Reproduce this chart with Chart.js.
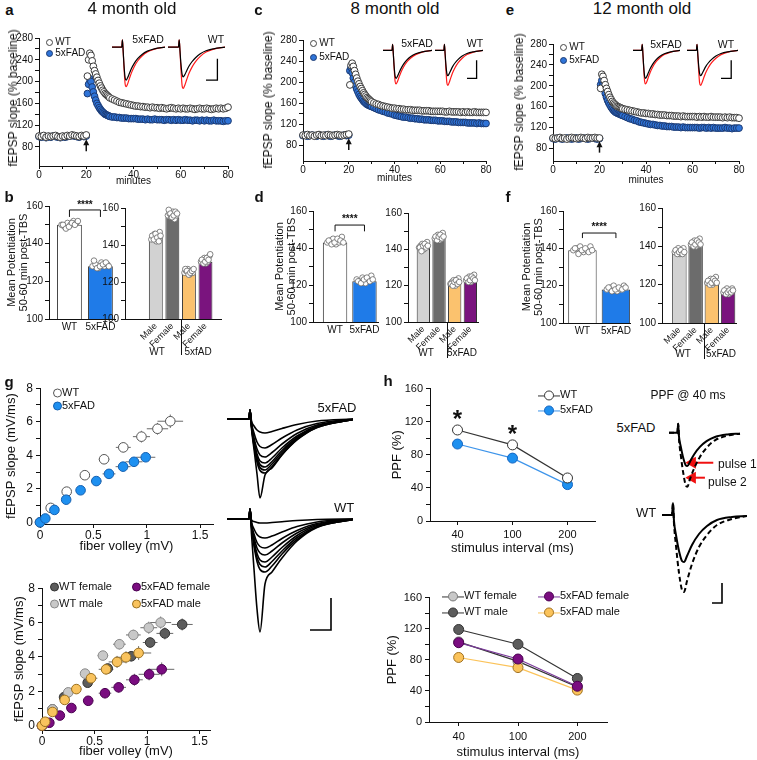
<!DOCTYPE html>
<html>
<head>
<meta charset="utf-8">
<script src="https://cdn.jsdelivr.net/npm/chart.js@4.4.1/dist/chart.umd.min.js"></script>
<style>
  body { margin: 0; background: #fff; }
  #fig { position: relative; width: 757px; height: 760px; overflow: hidden; font-family: 'Liberation Sans', Arial, sans-serif; color: #111; }
  #fig canvas { position: absolute; }
  .t { position: absolute; white-space: nowrap; line-height: 1; transform: translate(-50%, -50%); }
  .tr { position: absolute; white-space: nowrap; line-height: 1; transform: translate(-50%, -50%) rotate(-90deg); }
  .tl { position: absolute; white-space: nowrap; line-height: 1; transform: translate(0, -50%); }
  .dot { display: inline-block; border-radius: 50%; box-sizing: border-box; vertical-align: middle; }
</style>
</head>
<body>
<div id="fig"></div>
<script>
// ---------- LTP time course (minutes, % baseline) ----------
const ltpMinutes = [0,1,2,3,4,5,6,7,8,9,10,11,12,13,14,15,16,17,18,19,20,
  20.5,21,21.5,22,22.5,23,23.5,24,24.5,25,25.5,26,26.5,27,27.5,28,28.5,29,29.5,30,
  31,32,33,34,35,36,37,38,39,40,41,42,43,44,45,46,47,48,49,50,
  51,52,53,54,55,56,57,58,59,60,61,62,63,64,65,66,67,68,69,70,
  71,72,73,74,75,76,77,78,79,80]
const wt4mo = [100,99,101,98,100,99,100,101,99,98,100,99,101,100,102,101,100,99,101,100,102,
  210,240,252,248,238,228,220,214,208,202,197,192,188,184,181,178,176,174,172,170,
  168,166,164,162,161,160,159,158,157,156,155,155,154,154,153,153,152,153,152,152,
  151,152,151,150,151,152,151,150,151,150,151,150,150,151,150,149,150,151,150,150,
  151,150,149,150,151,150,151,150,151,153]
const fad4mo = [99,98,100,97,99,98,100,99,98,97,99,98,99,100,101,100,99,98,100,99,100,
  178,195,205,200,190,181,173,166,160,156,152,149,146,144,142,140,139,138,137,136,
  135,135,134,134,133,133,133,132,132,132,132,131,131,131,130,131,130,130,131,130,
  130,130,129,130,130,129,130,129,130,129,129,130,129,129,128,129,129,128,129,128,
  129,128,128,129,128,128,128,127,128,128]
const wt8mo = [100,99,101,99,100,98,100,101,99,100,99,101,100,99,100,101,100,99,100,101,102,
  195,232,236,230,222,215,208,202,197,192,188,184,180,177,174,171,169,167,165,163,
  161,159,158,156,155,154,153,152,151,151,150,150,149,149,148,148,148,147,147,147,
  147,146,146,146,146,145,145,145,145,145,145,144,144,145,144,144,144,144,143,144,
  143,144,143,143,144,143,143,143,143,143]
const fad8mo = [99,100,98,99,100,99,98,100,99,98,100,99,98,99,100,99,98,99,100,99,100,
  222,228,218,208,200,193,187,182,177,173,170,167,164,162,160,158,157,156,155,154,
  152,150,148,147,145,144,142,141,140,138,137,136,135,134,134,133,132,132,131,131,
  130,130,129,129,129,128,128,128,127,127,127,126,126,126,125,125,125,124,124,124,
  124,123,123,123,123,122,123,122,122,122]
const wt12mo = [100,99,100,101,99,100,98,100,101,100,99,100,101,100,99,101,100,100,101,100,100,
  195,222,218,210,202,195,189,183,178,174,170,167,165,163,161,160,159,158,157,156,
  155,154,153,152,151,150,149,148,148,147,147,146,146,145,145,144,144,144,143,143,
  143,142,142,142,141,142,141,141,141,141,141,140,141,140,141,140,140,141,140,140,
  140,140,139,140,139,140,139,139,139,138]
const fad12mo = [99,98,100,99,98,99,100,99,98,99,100,98,99,100,99,98,99,100,99,98,99,
  202,210,202,193,185,178,172,167,163,159,156,153,151,149,148,147,146,145,144,143,
  141,139,137,136,134,133,131,130,129,128,127,126,126,125,124,124,123,123,122,122,
  122,121,121,121,120,121,120,120,120,120,120,120,119,120,120,119,120,119,120,119,
  119,119,119,120,119,119,118,119,119,119]
const ltpYTicks = [80,100,120,140,160,180,200,220,240,260,280]
const ltpXTicks = [0,10,20,30,40,50,60,70,80]

// ---------- mean potentiation 50-60 min post-TBS ----------
const genoLabels = ['WT', '5xFAD']
const sexLabels = ['Male', 'Female', 'Male', 'Female']
const potTicks = [100,110,120,130,140,150,160]
const jitter = [-0.32,-0.2,-0.08,0.04,0.16,0.28,-0.26,-0.14,-0.02,0.1,0.22,0.34]
const geno4 = [150, 128]
const geno4Pts = [[150,149,151,150,152,151,150,148,149,151,150,152],[128,129,127,130,128,129,131,127,128,129,130,128]]
const sex4 = [144, 155, 125, 131]
const sex4Pts = [[143,145,146,142,144,147,145,143,146,144,142,145],[156,157,155,158,154,156,159,157,155,156,158,157],
  [125,126,127,124,126,125,127,126,124,125,126,127],[131,132,133,130,131,134,132,130,131,133,132,135]]
const geno8 = [143, 122]
const geno8Pts = [[143,144,145,142,143,146,144,142,143,145,144,143],[123,122,124,121,123,125,122,121,123,124,122,123]]
const sex8 = [141, 146, 121, 122]
const sex8Pts = [[141,142,143,140,142,144,141,139,142,143,141,142],[146,147,148,145,146,149,147,145,147,148,146,147],
  [121,122,123,120,122,124,121,120,122,123,121,122],[123,124,125,122,123,126,124,122,123,125,124,123]]
const geno12 = [139, 118]
const geno12Pts = [[139,140,141,138,139,141,140,137,139,140,138,139],[118,119,120,117,118,120,119,117,118,119,118,119]]
const sex12 = [137, 141, 121, 116]
const sex12Pts = [[137,138,139,136,137,139,138,136,137,138,136,137],[141,142,143,140,141,144,142,140,141,143,142,141],
  [121,122,123,120,121,124,122,120,121,123,122,121],[116,117,118,115,116,118,117,115,116,117,116,117]]

// ---------- input-output (fiber volley mV, fEPSP slope mV/ms) ----------
const ioWtX = [0,0.1,0.25,0.42,0.6,0.78,0.95,1.1,1.22]
const ioWtY = [0,0.86,1.83,2.81,3.76,4.47,5.11,5.58,6.03]
const ioWtEx = [0.01,0.02,0.03,0.04,0.05,0.07,0.08,0.1,0.12]
const ioWtEy = [0.02,0.1,0.15,0.2,0.25,0.3,0.35,0.35,0.4]
const ioFadX = [0,0.05,0.135,0.245,0.38,0.527,0.646,0.778,0.88,0.99]
const ioFadY = [0,0.23,0.74,1.35,1.91,2.46,2.89,3.32,3.61,3.88]
const ioFadEx = [0.005,0.01,0.02,0.03,0.04,0.05,0.06,0.07,0.08,0.09]
const ioFadEy = [0.02,0.05,0.08,0.1,0.12,0.15,0.18,0.2,0.2,0.22]
const ioWtFemX = [0,0.1,0.21,0.435,0.626,0.85,1.03,1.17,1.335]
const ioWtFemY = [0,0.95,1.66,2.5,3.33,4.04,4.84,5.37,5.89]
const ioWtMaleX = [0,0.1,0.25,0.41,0.58,0.737,0.87,1.017,1.13]
const ioWtMaleY = [0,0.95,1.94,3.03,4.08,4.74,5.28,5.7,6.0]
const ioFadFemX = [0,0.07,0.17,0.28,0.44,0.6,0.73,0.88,1.02,1.14]
const ioFadFemY = [0,0.17,0.59,1.03,1.45,1.89,2.23,2.67,2.99,3.28]
const ioFadMaleX = [0,0.03,0.1,0.216,0.327,0.467,0.61,0.715,0.8,0.92]
const ioFadMaleY = [0,0.23,0.8,1.5,2.13,2.76,3.28,3.71,3.98,4.23]
const ioSexEx = [0.01,0.02,0.03,0.04,0.05,0.06,0.07,0.08,0.1,0.12]
const ioSexEy = [0.02,0.1,0.15,0.2,0.25,0.3,0.3,0.35,0.35,0.4]
const ioXTicks = [0,0.5,1,1.5]
const ioYTicks = [0,1,2,3,4,5,6,7,8]

// ---------- paired-pulse facilitation (%) ----------
const ppfIntervals = ['40', '100', '200']
const ppfWt = [110, 92, 52]
const ppfWtErr = [4, 3, 3]
const ppfFad = [93, 76, 44]
const ppfFadErr = [4, 3, 2]
const ppfWtFemale = [103, 78, 45]
const ppfWtMale = [119, 100, 56]
const ppfFadFemale = [102, 81, 46]
const ppfFadMale = [83, 70, 41]
const ppfSexErr = [6, 5, 3]
const ppfTicks = [0,20,40,60,80,100,120,140,160]
const ppfStarAt = [0, 1]
const ppfStarY = [121, 103]

// ---------- example traces (time, amplitude) ----------
const insetT = [0,5.5,5.9,6.3,6.8,7.4,8.0,8.8,9.8,11,12.5,14.5,17,20,24,30]
const insetFadPre = [0,0,0.22,-0.1,-0.55,-0.92,-1.0,-0.93,-0.8,-0.65,-0.5,-0.35,-0.22,-0.12,-0.05,0]
const insetFadPost = [0,0,0.22,-0.1,-0.62,-1.1,-1.2,-1.12,-0.96,-0.78,-0.6,-0.42,-0.27,-0.15,-0.06,0]
const insetWtPre = [0,0,0.22,-0.1,-0.5,-0.82,-0.9,-0.84,-0.72,-0.58,-0.45,-0.32,-0.2,-0.11,-0.05,0]
const insetWtPost = [0,0,0.22,-0.1,-0.65,-1.15,-1.25,-1.16,-0.99,-0.8,-0.62,-0.44,-0.28,-0.15,-0.06,0]
const insetBarT = [20,26,26]
const insetBarV = [-1.0,-1.0,-0.35]

const ioTraceT = [0,22,23,24.5,27,30,33,38,45,55,70,90,126]
const ioTraceFad = [
  [0,0,0.9,-0.2,-0.7,-1.1,-1.3,-1.4,-1.25,-0.95,-0.55,-0.2,0],
  [0,0,0.9,-0.4,-1.4,-2.3,-2.75,-2.9,-2.55,-1.9,-1.1,-0.45,0],
  [0,0,0.9,-0.5,-1.9,-3.0,-3.6,-3.8,-3.35,-2.5,-1.45,-0.6,-0.05],
  [0,0,0.9,-0.6,-2.2,-3.5,-4.2,-4.4,-3.9,-2.9,-1.7,-0.7,-0.05],
  [0,0,0.9,-0.65,-2.4,-3.8,-4.55,-4.8,-4.25,-3.15,-1.85,-0.75,-0.05],
  [0,0,0.9,-0.7,-2.55,-4.05,-4.85,-5.1,-4.5,-3.35,-1.95,-0.8,-0.05],
  [0,0,0.9,-0.75,-2.7,-4.3,-5.15,-5.4,-4.75,-3.55,-2.05,-0.85,-0.05],
  [0,0,0.9,-1.0,-3.0,-5.5,-7.9,-5.6,-4.9,-3.6,-2.1,-0.85,-0.05]]
const ioTraceWt = [
  [0,0,1.0,-0.1,-0.25,-0.35,-0.4,-0.4,-0.35,-0.27,-0.15,-0.05,0],
  [0,0,1.0,-0.3,-1.0,-1.55,-1.8,-1.9,-1.7,-1.3,-0.75,-0.3,0],
  [0,0,1.0,-0.45,-1.5,-2.35,-2.75,-2.9,-2.6,-1.95,-1.15,-0.45,0],
  [0,0,1.0,-0.55,-1.85,-2.9,-3.4,-3.6,-3.2,-2.4,-1.4,-0.55,-0.05],
  [0,0,1.0,-0.65,-2.2,-3.45,-4.1,-4.3,-3.8,-2.85,-1.65,-0.65,-0.05],
  [0,0,1.0,-0.75,-2.45,-3.85,-4.55,-4.8,-4.25,-3.2,-1.85,-0.75,-0.05],
  [0,0,1.0,-0.8,-2.7,-4.25,-5.05,-5.3,-4.7,-3.5,-2.05,-0.8,-0.05],
  [0,0,1.0,-1.5,-5.0,-9.0,-11.3,-6.5,-5.3,-3.9,-2.2,-0.85,-0.05]]
const ioBarT = [83,104,104]
const ioBarV = [-11.1,-11.1,-7.9]

const ppfTraceT = [0,10,11,12,14,17,20,22,25,30,37,45,55,70,85]
const ppfFadPulse1 = [0,0,1.1,-0.5,-1.6,-3.0,-3.9,-4.0,-3.5,-2.6,-1.7,-1.0,-0.5,-0.2,-0.1]
const ppfFadPulse2 = [0,0,1.1,-0.8,-2.6,-4.8,-6.3,-6.5,-5.6,-4.3,-2.9,-1.8,-0.9,-0.35,-0.1]
const ppfWtPulse1 = [0,0,1.2,-0.6,-2.0,-3.6,-4.6,-4.7,-4.1,-3.0,-1.9,-1.1,-0.5,-0.2,-0.1]
const ppfWtPulse2 = [0,0,1.2,-0.9,-3.1,-5.8,-7.5,-7.7,-6.6,-4.9,-3.2,-2.0,-1.0,-0.4,-0.1]
const ppfArrow1T = [28,53]
const ppfArrow1V = [-3.6,-3.6]
const ppfArrow2T = [28,43]
const ppfArrow2V = [-5.4,-5.4]
const ppfBarT = [50,60,60]
const ppfBarV = [-8.8,-8.8,-6.8]

// ---------- setup ----------
const FONT = "'Liberation Sans', Arial, sans-serif"
Chart.defaults.font.family = FONT
Chart.defaults.color = '#111'
Chart.defaults.animation = false
Chart.defaults.responsive = false
Chart.defaults.devicePixelRatio = 1
Chart.defaults.plugins.legend.display = false
Chart.defaults.plugins.tooltip.enabled = false

const fig = document.getElementById('fig')

function mount(b) {
  const c = document.createElement('canvas')
  const w = Math.round(b.x1 - b.x0 + b.L + b.R), h = Math.round(b.y1 - b.y0 + b.T + b.B)
  c.width = w; c.height = h
  c.style.width = w + 'px'; c.style.height = h + 'px'
  c.style.left = (b.x0 - b.L) + 'px'
  c.style.top = (b.y0 - b.T) + 'px'
  fig.appendChild(c)
  return c
}

function T(text, x, y, size, extra, cls) {
  const d = document.createElement('div')
  d.className = cls || 't'
  d.style.left = x + 'px'; d.style.top = y + 'px'; d.style.fontSize = size + 'px'
  if (extra) Object.assign(d.style, extra)
  d.textContent = text
  fig.appendChild(d)
}
function TL(html, x, y, size) {
  const d = document.createElement('div')
  d.className = 'tl'
  d.style.left = x + 'px'; d.style.top = y + 'px'; d.style.fontSize = size + 'px'
  d.innerHTML = html
  fig.appendChild(d)
}
const dot = (d, fill, stroke) =>
  `<span class="dot" style="width:${d}px;height:${d}px;background:${fill};border:1px solid ${stroke}"></span>`
const lineDot = (line, fill, stroke) =>
  `<span style="display:inline-block;position:relative;width:22px;height:10px;vertical-align:middle">` +
  `<span style="position:absolute;left:0;right:0;top:4.5px;border-top:1px solid ${line}"></span>` +
  `<span class="dot" style="position:absolute;left:6px;top:0;width:10px;height:10px;background:${fill};border:1px solid ${stroke}"></span></span>`

// axis builder; box gives chart area and margins, o gives ticks/titles
function axis(b, o) {
  const lh = o.tsize ? o.tsize * (o.tlh || 1.2) : 0
  let tpad = 0
  if (o.title && o.dir === 'y') tpad = o.tc - (b.x0 - b.L) - lh / 2
  if (o.title && o.dir === 'x') tpad = (b.y1 + b.B) - lh / 2 - o.tc
  const ax = {
    type: o.type || 'linear',
    afterFit: s => { if (o.dir === 'y') s.width = b.L; else s.height = b.B },
    border: { display: true, color: '#111', width: 1 },
    grid: { display: o.tl > 0, drawOnChartArea: false, drawTicks: o.tl > 0, tickLength: o.tl || 0, color: '#111', offset: false },
    ticks: { autoSkip: false, padding: o.pad, font: { size: o.size }, color: '#111',
      maxRotation: o.rot || 0, minRotation: o.rot || 0 },
    title: { display: !!o.title, text: o.title, color: '#111',
      font: { size: o.tsize || 12, lineHeight: o.tlh || 1.2 },
      padding: o.dir === 'y' ? { top: tpad, bottom: 0 } : { top: 0, bottom: tpad } }
  }
  if (ax.type === 'linear') {
    ax.min = o.min; ax.max = o.max; ax.offset = false
    ax.afterBuildTicks = s => { s.ticks = o.ticks.map(v => ({ value: v })) }
    ax.ticks.callback = o.fmt
  } else {
    ax.offset = true
  }
  return ax
}
const layoutOf = b => ({ padding: { top: b.T, right: b.R, left: 0, bottom: 0 } })

// ---------- plugins ----------
const errorBars = {
  id: 'errorBars',
  beforeDatasetsDraw(chart) {
    const { ctx, scales: { x, y } } = chart
    ctx.save()
    chart.data.datasets.forEach((ds, di) => {
      if (!ds.errX && !ds.errY) return
      const meta = chart.getDatasetMeta(di)
      ctx.strokeStyle = ds.errColor || '#666'
      ctx.lineWidth = 1
      meta.data.forEach((pt, i) => {
        const raw = ds.data[i]
        const yv = typeof raw === 'object' ? raw.y : raw
        ctx.beginPath()
        if (ds.errX) {
          ctx.moveTo(x.getPixelForValue(raw.x - ds.errX[i]), pt.y)
          ctx.lineTo(x.getPixelForValue(raw.x + ds.errX[i]), pt.y)
        }
        if (ds.errY) {
          ctx.moveTo(pt.x, y.getPixelForValue(yv - ds.errY[i]))
          ctx.lineTo(pt.x, y.getPixelForValue(yv + ds.errY[i]))
        }
        ctx.stroke()
      })
    })
    ctx.restore()
  }
}

const bracket = {
  id: 'bracket',
  afterDatasetsDraw(chart, args, o) {
    if (!o || o.top == null) return
    const { ctx, scales: { x, y } } = chart
    const xa = x.getPixelForValue(0), xb = x.getPixelForValue(1)
    const yt = y.getPixelForValue(o.top), yd = y.getPixelForValue(o.drop)
    ctx.save()
    ctx.strokeStyle = '#111'; ctx.lineWidth = 1
    ctx.beginPath()
    ctx.moveTo(xa, yd); ctx.lineTo(xa, yt); ctx.lineTo(xb, yt); ctx.lineTo(xb, yd)
    ctx.stroke()
    ctx.fillStyle = '#111'; ctx.font = 'bold 10px ' + FONT
    ctx.textAlign = 'center'; ctx.textBaseline = 'middle'
    ctx.fillText(o.label, (xa + xb) / 2, y.getPixelForValue(o.textAt))
    ctx.restore()
  }
}

const divider = {
  id: 'divider',
  afterDraw(chart, args, o) {
    if (!o || o.at == null) return
    const { ctx, chartArea } = chart
    const xp = Math.round(chart.scales.x.getPixelForValue(o.at)) + 0.5
    ctx.save()
    ctx.strokeStyle = '#111'; ctx.lineWidth = 1
    ctx.beginPath(); ctx.moveTo(xp, chartArea.bottom); ctx.lineTo(xp, chartArea.bottom + o.len); ctx.stroke()
    ctx.restore()
  }
}

const tbsArrow = {
  id: 'tbsArrow',
  afterDatasetsDraw(chart, args, o) {
    if (!o || o.at == null) return
    const { ctx, scales: { x, y } } = chart
    const xp = x.getPixelForValue(o.at), y0 = y.getPixelForValue(o.from), y1 = y.getPixelForValue(o.to)
    ctx.save()
    ctx.strokeStyle = '#111'; ctx.fillStyle = '#111'; ctx.lineWidth = 1.5
    ctx.beginPath(); ctx.moveTo(xp, y0); ctx.lineTo(xp, y1 + 3); ctx.stroke()
    ctx.beginPath(); ctx.moveTo(xp, y1); ctx.lineTo(xp - 3, y1 + 6); ctx.lineTo(xp + 3, y1 + 6); ctx.closePath(); ctx.fill()
    ctx.restore()
  }
}

const stars = {
  id: 'stars',
  afterDatasetsDraw(chart, args, o) {
    if (!o || !o.at) return
    const { ctx, scales: { x, y } } = chart
    ctx.save()
    ctx.fillStyle = '#111'; ctx.font = 'bold 24px ' + FONT
    ctx.textAlign = 'center'; ctx.textBaseline = 'middle'
    o.at.forEach((c, i) => ctx.fillText('*', x.getPixelForValue(c), y.getPixelForValue(o.y[i])))
    ctx.restore()
  }
}

// ---------- LTP panels ----------
function ltpPanel(b, wt, fad, yMin, xtc) {
  const cv = mount(b)
  new Chart(cv, {
    type: 'scatter',
    data: { datasets: [
      { data: ltpMinutes.map((m, i) => ({ x: m, y: wt[i] })), pointRadius: 3.4, pointBorderWidth: 1,
        backgroundColor: '#ffffff', borderColor: '#3a3a3a', clip: false },
      { data: ltpMinutes.map((m, i) => ({ x: m, y: fad[i] })), pointRadius: 3.4, pointBorderWidth: 1,
        backgroundColor: '#2f74d8', borderColor: '#1c3a72', clip: false }
    ] },
    options: {
      layout: layoutOf(b),
      scales: {
        x: axis(b, { dir: 'x', min: 0, max: 80, ticks: ltpXTicks, tl: 3, pad: 0, size: 10,
          fmt: v => v % 20 === 0 ? v : '', title: 'minutes', tsize: 10, tc: xtc }),
        y: axis(b, { dir: 'y', min: yMin, max: 280, ticks: ltpYTicks, tl: 4, pad: 2, size: 10,
          fmt: v => v % 40 === 0 ? v : '' })
      },
      plugins: { tbsArrow: { at: 20, from: 72, to: 94 } }
    },
    plugins: [tbsArrow]
  })
}

ltpPanel({ x0: 39, x1: 228, y0: 38, y1: 166, L: 39, R: 10, T: 8, B: 22 }, wt4mo, fad4mo, 45, 181)
ltpPanel({ x0: 303, x1: 486, y0: 40, y1: 161, L: 47, R: 10, T: 8, B: 24 }, wt8mo, fad8mo, 51, 178)
ltpPanel({ x0: 553, x1: 739, y0: 44, y1: 161, L: 47, R: 10, T: 8, B: 26 }, wt12mo, fad12mo, 56, 180)

// ---------- example EPSP insets (black = baseline, red = post-TBS) ----------
function traceChart(b, xr, yr, sets) {
  const cv = mount(Object.assign({ L: 0, R: 0, T: 0, B: 0 }, b))
  new Chart(cv, {
    type: 'line',
    data: { datasets: sets.map(s => Object.assign({
      data: s.t.map((t, i) => ({ x: t, y: s.v[i] })),
      borderColor: s.c, borderWidth: s.w || 1.2, borderDash: s.dash || [],
      pointRadius: 0, cubicInterpolationMode: s.straight ? 'default' : 'monotone', tension: 0, clip: false
    }, s.extra || {})) },
    options: {
      layout: { padding: 0 },
      scales: { x: { type: 'linear', display: false, min: xr[0], max: xr[1] },
                y: { type: 'linear', display: false, min: yr[0], max: yr[1] } }
    }
  })
}

function insetPair(fadBox, wtBox) {
  const yr = [-1.45, 0.55]
  traceChart(fadBox, [0, 30], yr, [
    { t: insetT, v: insetFadPre, c: '#000' }, { t: insetT, v: insetFadPost, c: '#ff1a1a' }])
  traceChart(wtBox, [0, 30], yr, [
    { t: insetT, v: insetWtPre, c: '#000' }, { t: insetT, v: insetWtPost, c: '#ff1a1a' },
    { t: insetBarT, v: insetBarV, c: '#000', w: 1.3, straight: true }])
}
insetPair({ x0: 112, x1: 165, y0: 29, y1: 95 }, { x0: 168, x1: 225, y0: 29, y1: 95 })
insetPair({ x0: 383, x1: 432, y0: 35, y1: 91 }, { x0: 435, x1: 483, y0: 35, y1: 91 })
insetPair({ x0: 633, x1: 680, y0: 35, y1: 91 }, { x0: 687, x1: 738, y0: 35, y1: 91 })

// ---------- bar panels ----------
function barPanel(b, o) {
  const cv = mount(b)
  const pts = []
  o.pts.forEach((arr, i) => arr.forEach((v, k) => pts.push({ x: i + jitter[k] * o.bp, y: v })))
  const isSex = o.labels.length === 4
  new Chart(cv, {
    type: 'bar',
    data: { datasets: [
      { type: 'scatter', data: pts, pointRadius: 2.8, pointBorderWidth: 0.8,
        backgroundColor: '#ffffff', borderColor: '#666', clip: false },
      { data: o.values.map((v, i) => ({ x: i, y: v })), backgroundColor: o.colors,
        borderColor: '#333', borderWidth: 1, barPercentage: o.bp, categoryPercentage: 1 }
    ] },
    options: {
      layout: layoutOf(b),
      scales: {
        x: axis(b, { dir: 'x', min: o.xr[0], max: o.xr[1], ticks: o.labels.map((l, i) => i), tl: 0,
          pad: 2, size: isSex ? 9 : 10, rot: isSex ? 45 : 0, fmt: v => o.labels[v] }),
        y: axis(b, { dir: 'y', min: 100, max: 160, ticks: potTicks, tl: 4, pad: 2, size: 10,
          fmt: v => v % 20 === 0 ? v : '',
          title: o.ytc ? ['Mean Potentiation', '50-60 min post-TBS'] : '', tsize: 11, tlh: 1.1, tc: o.ytc })
      },
      plugins: { bracket: o.bracket || {}, divider: isSex ? { at: 1.5, len: 36 } : {} }
    },
    plugins: [bracket, divider]
  })
}

const potColors = ['#ffffff', '#1f7be8']
const sexColors = ['#d2d2d2', '#6c6c6c', '#fbc26e', '#7a147e']

barPanel({ x0: 49, x1: 115, y0: 206, y1: 319, L: 49, R: 6, T: 14, B: 20 },
  { labels: genoLabels, values: geno4, pts: geno4Pts, colors: potColors, bp: 0.8, xr: [-0.66, 1.47], ytc: 11.5,
    bracket: { top: 157.9, drop: 154.2, textAt: 160.2, label: '****' } })
barPanel({ x0: 125, x1: 222, y0: 208, y1: 319, L: 25, R: 4, T: 12, B: 45 },
  { labels: sexLabels, values: sex4, pts: sex4Pts, colors: sexColors, bp: 0.84, xr: [-1.86, 3.95] })
barPanel({ x0: 313, x1: 378, y0: 211, y1: 322, L: 58, R: 6, T: 14, B: 20 },
  { labels: genoLabels, values: geno8, pts: geno8Pts, colors: potColors, bp: 0.83, xr: [-0.75, 1.46], ytc: 280,
    bracket: { top: 152.4, drop: 149, textAt: 155.5, label: '****' } })
barPanel({ x0: 408, x1: 479, y0: 213, y1: 322, L: 25, R: 4, T: 12, B: 45 },
  { labels: sexLabels, values: sex8, pts: sex8Pts, colors: sexColors, bp: 0.85, xr: [-0.98, 3.5] })
barPanel({ x0: 563, x1: 630, y0: 211, y1: 323, L: 58, R: 6, T: 14, B: 20 },
  { labels: genoLabels, values: geno12, pts: geno12Pts, colors: potColors, bp: 0.85, xr: [-0.58, 1.42], ytc: 527,
    bracket: { top: 148.2, drop: 145.5, textAt: 151.2, label: '****' } })
barPanel({ x0: 662, x1: 737, y0: 208, y1: 323, L: 25, R: 4, T: 12, B: 45 },
  { labels: sexLabels, values: sex12, pts: sex12Pts, colors: sexColors, bp: 0.89, xr: [-1.07, 3.5] })

// ---------- input-output panels ----------
function ioPanel(b, sets, xMax, yMin, ytc, xtc) {
  const cv = mount(b)
  new Chart(cv, {
    type: 'scatter',
    data: { datasets: sets.map(s => ({
      data: s.x.map((v, i) => ({ x: v, y: s.y[i] })), errX: s.ex, errY: s.ey, errColor: '#6a6a6a',
      pointRadius: 4.8, pointBorderWidth: 1, backgroundColor: s.fill, borderColor: s.stroke, clip: false })) },
    options: {
      layout: layoutOf(b),
      scales: {
        x: axis(b, { dir: 'x', min: 0, max: xMax, ticks: ioXTicks, tl: 4, pad: 0, size: 12,
          fmt: v => String(v), title: 'fiber volley (mV)', tsize: 13, tc: xtc }),
        y: axis(b, { dir: 'y', min: yMin, max: 8, ticks: ioYTicks, tl: 4, pad: 3, size: 12,
          fmt: v => v % 2 === 0 ? v : '', title: 'fEPSP slope (mV/ms)', tsize: 13, tc: ytc })
      }
    },
    plugins: [errorBars]
  })
}

ioPanel({ x0: 40, x1: 213, y0: 386, y1: 524, L: 40, R: 6, T: 8, B: 31 }, [
  { x: ioFadX, y: ioFadY, ex: ioFadEx, ey: ioFadEy, fill: '#1e90f0', stroke: '#1560b0' },
  { x: ioWtX, y: ioWtY, ex: ioWtEx, ey: ioWtEy, fill: '#ffffff', stroke: '#555' }
], 1.62, -0.1, 11, 546)

ioPanel({ x0: 42, x1: 210, y0: 586, y1: 730, L: 42, R: 6, T: 8, B: 30 }, [
  { x: ioFadMaleX, y: ioFadMaleY, ex: ioSexEx, ey: ioSexEy, fill: '#f9c35e', stroke: '#9a7020' },
  { x: ioFadFemX, y: ioFadFemY, ex: ioSexEx, ey: ioSexEy, fill: '#7a0d80', stroke: '#4a0050' },
  { x: ioWtMaleX, y: ioWtMaleY, ex: ioSexEx, ey: ioSexEy, fill: '#c8c8c8', stroke: '#888' },
  { x: ioWtFemX, y: ioWtFemY, ex: ioSexEx, ey: ioSexEy, fill: '#5c5c5c', stroke: '#333' }
], 1.6, -0.25, 19, 751)

// ---------- input-output traces ----------
const ioFadSets = ioTraceFad.map(v => ({ t: ioTraceT, v: v, c: '#000', w: 1.6 }))
traceChart({ x0: 227, x1: 353, y0: 407, y1: 501 }, [0, 126], [-8.2, 1.2], ioFadSets)
const ioWtSets = ioTraceWt.map(v => ({ t: ioTraceT, v: v, c: '#000', w: 1.6 }))
ioWtSets.push({ t: ioBarT, v: ioBarV, c: '#000', w: 1.6, straight: true })
traceChart({ x0: 227, x1: 353, y0: 507, y1: 635 }, [0, 126], [-11.6, 1.2], ioWtSets)

// ---------- PPF panels ----------
function ppfPanel(b, sets, ytc, xtc, starOpts) {
  const cv = mount(b)
  new Chart(cv, {
    type: 'line',
    data: { labels: ppfIntervals, datasets: sets.map(s => ({
      data: s.v, errY: s.err, errColor: '#777', borderColor: s.line, borderWidth: 1.2,
      pointRadius: 5, pointBorderWidth: 1, pointBackgroundColor: s.fill, pointBorderColor: s.stroke,
      tension: 0, clip: false })) },
    options: {
      layout: layoutOf(b),
      scales: {
        x: axis(b, { dir: 'x', type: 'category', tl: 4, pad: b.xpad, size: 11,
          title: 'stimulus interval (ms)', tsize: 13, tc: xtc }),
        y: axis(b, { dir: 'y', min: 0, max: 160, ticks: ppfTicks, tl: 4, pad: 3, size: 11,
          fmt: v => v % 40 === 0 ? v : '', title: 'PPF (%)', tsize: 13, tc: ytc })
      },
      plugins: { stars: starOpts || {} }
    },
    plugins: [errorBars, stars]
  })
}

ppfPanel({ x0: 430, x1: 595, y0: 387, y1: 521, L: 45, R: 6, T: 8, B: 36, xpad: 3 }, [
  { v: ppfWt, err: ppfWtErr, line: '#333', fill: '#ffffff', stroke: '#333' },
  { v: ppfFad, err: ppfFadErr, line: '#3d94ea', fill: '#1e90ef', stroke: '#1565c0' }
], 397, 548, { at: ppfStarAt, y: ppfStarY })

ppfPanel({ x0: 429, x1: 607, y0: 596, y1: 722, L: 46, R: 6, T: 8, B: 39, xpad: 4 }, [
  { v: ppfFadFemale, err: ppfSexErr, line: '#7a3a9a', fill: '#7a0d80', stroke: '#4a0050' },
  { v: ppfFadMale, err: ppfSexErr, line: '#fbc35a', fill: '#fbc35a', stroke: '#a07020' },
  { v: ppfWtMale, err: ppfSexErr, line: '#333', fill: '#5c5c5c', stroke: '#333' },
  { v: ppfWtFemale, err: ppfSexErr, line: '#333', fill: '#c8c8c8', stroke: '#777' }
], 392, 752)

// ---------- PPF traces (solid = pulse 1, dashed = pulse 2) ----------
const arrowStyle = { pointStyle: 'triangle', pointRotation: 270, pointRadius: [5, 0],
  pointBackgroundColor: '#f01010', pointBorderColor: '#f01010' }
traceChart({ x0: 662, x1: 747, y0: 415, y1: 498 }, [0, 85], [-7.0, 1.3], [
  { t: ppfTraceT, v: ppfFadPulse1, c: '#000', w: 2 },
  { t: ppfTraceT, v: ppfFadPulse2, c: '#000', w: 2, dash: [5, 3] },
  { t: ppfArrow1T, v: ppfArrow1V, c: '#f01010', w: 2, straight: true, extra: arrowStyle },
  { t: ppfArrow2T, v: ppfArrow2V, c: '#f01010', w: 2, straight: true, extra: arrowStyle }])
traceChart({ x0: 662, x1: 747, y0: 502, y1: 605 }, [0, 85], [-9.0, 1.3], [
  { t: ppfTraceT, v: ppfWtPulse1, c: '#000', w: 2 },
  { t: ppfTraceT, v: ppfWtPulse2, c: '#000', w: 2, dash: [5, 3] },
  { t: ppfBarT, v: ppfBarV, c: '#000', w: 1.6, straight: true }])

// ---------- text ----------
const bold = { fontWeight: 'bold' }
T('a', 9.5, 8.5, 15, bold); T('4 month old', 132, 8, 17)
T('c', 258.5, 8.5, 15, bold); T('8 month old', 395, 8, 17)
T('e', 510, 8.5, 15, bold); T('12 month old', 642, 8, 17)
T('b', 9, 196, 15, bold); T('d', 259, 196, 15, bold); T('f', 508, 196, 15, bold)
T('g', 9, 381, 15, bold); T('h', 388, 380, 15, bold)

// LTP y-axis titles (longer than the plot height, so set as page text)
T('fEPSP slope (% baseline)', 13, 98, 12, null, 'tr')
T('fEPSP slope (% baseline)', 268, 100, 12, null, 'tr')
T('fEPSP slope (% baseline)', 518.5, 102, 12, null, 'tr')

T('5xFAD', 148, 39, 10.5); T('WT', 216, 39, 10.5)
T('5xFAD', 417, 43, 10.5); T('WT', 475, 43, 10.5)
T('5xFAD', 666, 44, 10.5); T('WT', 726, 44, 10.5)

const ltpLegend = [[45.5, 42, 53], [309.5, 43, 57], [559.5, 47, 60]]
ltpLegend.forEach(([x, y1, y2]) => {
  TL(dot(7, '#fff', '#444') + ' WT', x, y1, 10)
  TL(dot(7, '#2f74d8', '#1c3a72') + ' 5xFAD', x, y2, 10)
})

T('WT', 157, 352, 10); T('5xfAD', 198, 352, 10)
T('WT', 426, 353, 10); T('5xFAD', 462, 353, 10)
T('WT', 683, 354, 10); T('5xFAD', 721, 354, 10)

TL(dot(9, '#fff', '#555') + 'WT', 53, 392, 11)
TL(dot(9, '#1e90f0', '#1560b0') + '5xFAD', 53, 405, 11)
TL(dot(9, '#5c5c5c', '#333') + 'WT female', 50, 586, 11)
TL(dot(9, '#c8c8c8', '#888') + 'WT male', 50, 603, 11)
TL(dot(9, '#7a0d80', '#4a0050') + '5xFAD female', 132, 586, 11)
TL(dot(9, '#f9c35e', '#9a7020') + '5xFAD male', 132, 603, 11)

T('5xFAD', 337, 407, 13); T('WT', 344, 507, 13)

TL(lineDot('#333', '#fff', '#333') + 'WT', 538, 395, 11)
TL(lineDot('#3d94ea', '#1e90ef', '#1565c0') + '5xFAD', 538, 410, 11)
TL(lineDot('#333', '#c8c8c8', '#777') + 'WT female', 442, 596, 11)
TL(lineDot('#333', '#5c5c5c', '#333') + 'WT male', 442, 612, 11)
TL(lineDot('#7a3a9a', '#7a0d80', '#4a0050') + '5xFAD female', 538, 596, 11)
TL(lineDot('#fbc35a', '#fbc35a', '#a07020') + '5xFAD male', 538, 612, 11)

T('PPF @ 40 ms', 688, 395, 12)
T('5xFAD', 636, 427, 13); T('WT', 646, 512, 13)
TL('pulse 1', 718, 464, 12); TL('pulse 2', 708, 482, 12)
</script>
</body>
</html>
